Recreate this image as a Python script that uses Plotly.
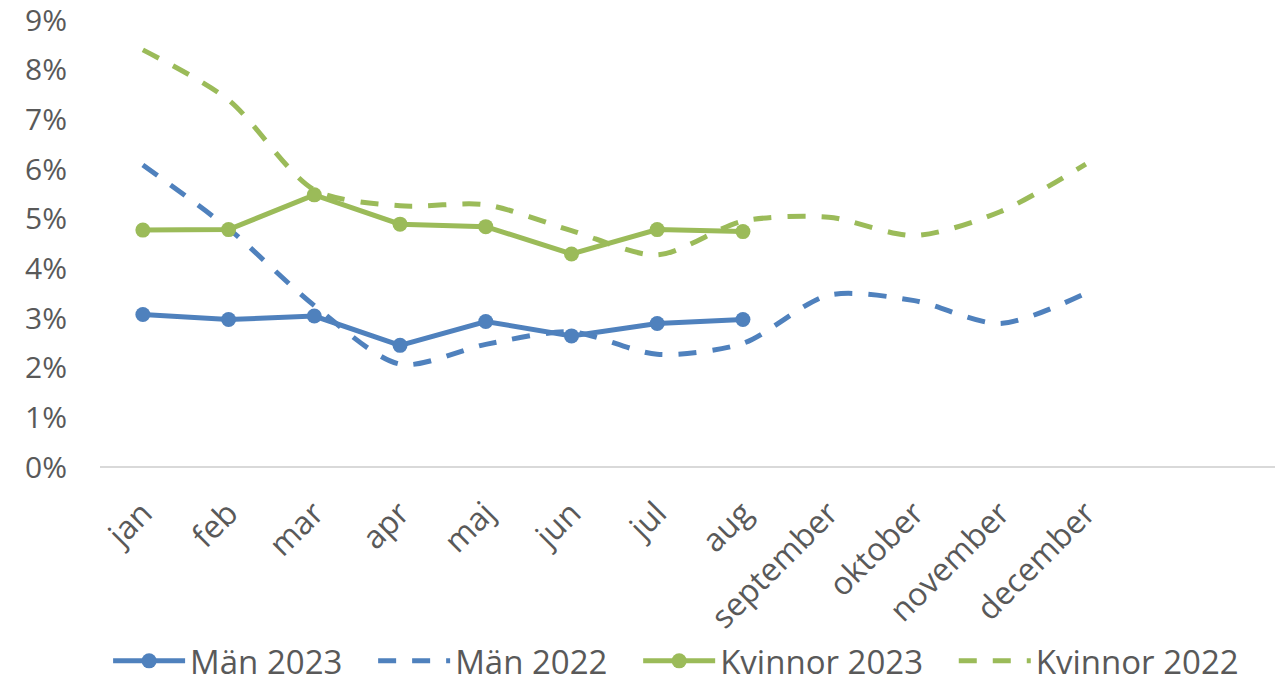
import plotly.graph_objects as go

months = ["jan", "feb", "mar", "apr", "maj", "jun", "jul", "aug",
          "september", "oktober", "november", "december"]
man_2023 = [3.07, 2.97, 3.04, 2.45, 2.93, 2.64, 2.89, 2.97]
man_2022 = [6.08, 4.80, 3.25, 2.07, 2.47, 2.72, 2.27, 2.49, 3.46, 3.35, 2.89, 3.50]
kvinnor_2023 = [4.77, 4.78, 5.48, 4.89, 4.84, 4.29, 4.78, 4.74]
kvinnor_2022 = [8.40, 7.39, 5.58, 5.26, 5.28, 4.76, 4.27, 4.95, 5.03, 4.66, 5.14, 6.10]
y_ticks = [0, 1, 2, 3, 4, 5, 6, 7, 8, 9]
y_ticktext = [f"{v}%" for v in y_ticks]

BLUE = "#4F81BD"
GREEN = "#9BBB59"
FONT = "Open Sans"
TXT = "#595959"
PAD = "\u00a0\u00a0\u00a0"

fig = go.Figure()
fig.add_trace(go.Scatter(x=months[:len(man_2023)], y=man_2023, name="Män 2023" + PAD,
                         mode="lines+markers",
                         line=dict(color=BLUE, width=5),
                         marker=dict(color=BLUE, size=15)))
fig.add_trace(go.Scatter(x=months, y=man_2022, name="Män 2022" + PAD, mode="lines",
                         line=dict(color=BLUE, width=5, dash="18px,16px",
                                   shape="spline", smoothing=0.8)))
fig.add_trace(go.Scatter(x=months[:len(kvinnor_2023)], y=kvinnor_2023,
                         name="Kvinnor 2023" + PAD, mode="lines+markers",
                         line=dict(color=GREEN, width=5),
                         marker=dict(color=GREEN, size=15)))
fig.add_trace(go.Scatter(x=months, y=kvinnor_2022, name="Kvinnor 2022", mode="lines",
                         line=dict(color=GREEN, width=5, dash="18px,16px",
                                   shape="spline", smoothing=0.8)))

# page body has an 8px margin, so the figure is sized/offset to compensate
fig.update_layout(
    width=1275, height=678,
    margin=dict(l=92, r=0, t=12, b=219),
    paper_bgcolor="white", plot_bgcolor="white",
    font=dict(family=FONT, size=30, color=TXT),
    showlegend=True,
    legend=dict(orientation="h", x=0.524, xanchor="center", xref="container",
                y=0.037, yanchor="middle", yref="container",
                font=dict(family=FONT, size=33, color=TXT), itemwidth=72,
                traceorder="normal", bgcolor="rgba(0,0,0,0)"),
)
fig.update_xaxes(type="category", categoryorder="array", categoryarray=months,
                 range=[-0.5, 13.3], tickangle=-45, showgrid=False,
                 showline=False, zeroline=False, ticks="", automargin=False,
                 ticklabelstandoff=20, ticklabeloverflow="allow",
                 tickfont=dict(family=FONT, size=32, color=TXT))
fig.update_yaxes(range=[0, 9.001], tickvals=y_ticks, ticktext=y_ticktext,
                 showgrid=False, zeroline=True, zerolinecolor="#D9D9D9", zerolinewidth=2,
                 showline=False, ticks="", automargin=False, ticklabeloverflow="allow",
                 ticklabelstandoff=32,
                 tickfont=dict(family=FONT, size=30, color=TXT))

fig.write_html("out.html")
